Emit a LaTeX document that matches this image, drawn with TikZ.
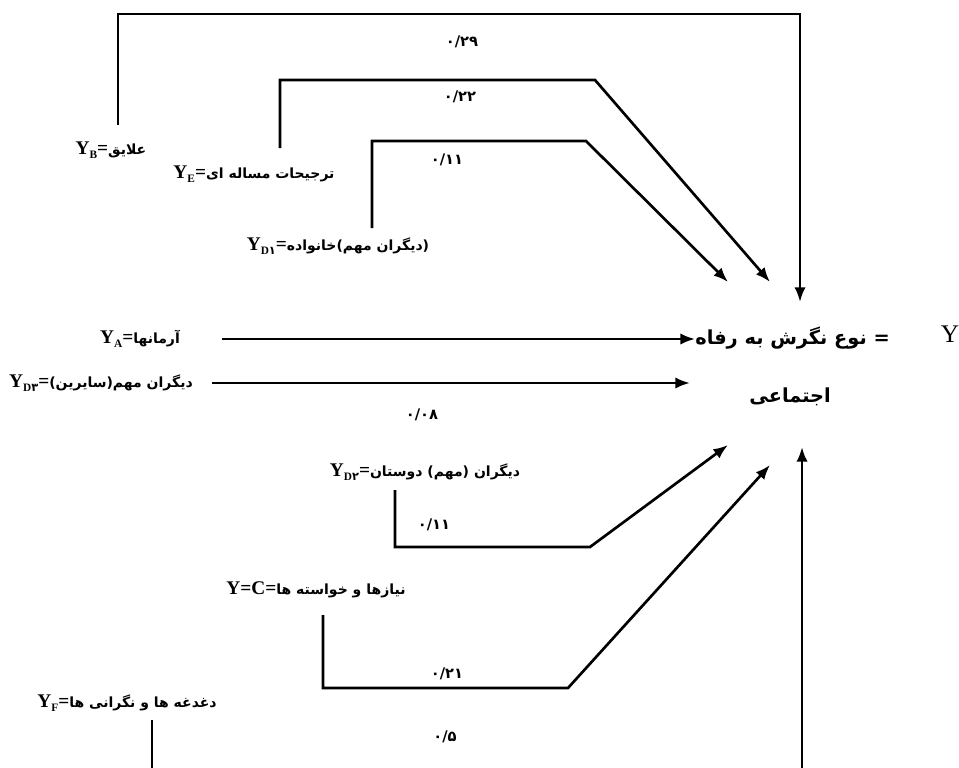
\documentclass[tikz,border=0pt]{standalone}
\usepackage{fontspec}
\setmainfont{Liberation Serif}
\newfontfamily\arfont[Script=Arabic]{DejaVu Sans}
\TeXXeTstate=1
\usetikzlibrary{arrows.meta}
\newcommand\Ysub[1]{\textbf{Y}\raisebox{-0.45ex}{\fontsize{8.5}{8.5}\selectfont\bfseries #1}}
\newcommand\ARt[1]{{\arfont\bfseries\beginR #1\endR}}
\newcommand\ARl[1]{{\fontsize{10.5}{12}\selectfont\ARt{#1}}}
\tikzset{
  lab/.style={inner sep=1pt, font=\fontsize{14.5}{16}\selectfont},
  num/.style={inner sep=1pt, font=\arfont\bfseries\fontsize{11}{12}\selectfont},
  conn/.style={line width=2pt, line join=miter},
  arr/.style={conn, -{Latex[length=11pt,width=8.5pt]}},
}
\begin{document}
\begin{tikzpicture}[x=0.75pt,y=-0.75pt]
\useasboundingbox (0,0) rectangle (959,767);
% labels
\node[lab] (yb) at (111,150) {\Ysub{B}\textbf{=}\ARl{علایق}};
\node[lab] (ye) at (254,174) {\Ysub{E}\textbf{=}\ARl{ترجیحات مساله ای}};
\node[lab] (yd1) at (338,246) {\Ysub{D{\arfont ۱}}\textbf{=}\ARl{(دیگران مهم)خانواده}};
\node[lab] (ya) at (140,339) {\Ysub{A}\textbf{=}\ARl{آرمانها}};
\node[lab] (yd3) at (101,383) {\Ysub{D{\arfont ۳}}\textbf{=}\ARl{دیگران مهم(سایرین)}};
\node[lab] (yd2) at (425,472) {\Ysub{D{\arfont ۲}}\textbf{=}\ARl{دیگران (مهم) دوستان}};
\node[lab] (yc) at (316,590) {\textbf{Y=C=}\ARl{نیازها و خواسته ها}};
\node[lab] (yf) at (127,703) {\Ysub{F}\textbf{=}\ARl{دغدغه ها و نگرانی ها}};
% main
\node[inner sep=0pt, anchor=east, font=\fontsize{14.5}{18}\selectfont] (main) at (890,338) {\ARt{= نوع نگرش به رفاه}};
\node[inner sep=1pt, font=\fontsize{14.5}{18}\selectfont] (main2) at (790,397) {\ARt{اجتماعی}};
\node[inner sep=1pt, font=\fontsize{19}{20}\selectfont] (mainy) at (950,334) {Y};
% numbers
\node[num] (n1) at (462,42) {۰/۲۹};
\node[num] (n2) at (460,97) {۰/۲۲};
\node[num] (n3) at (447,160) {۰/۱۱};
\node[num] (n4) at (422,415) {۰/۰۸};
\node[num] (n5) at (434,525) {۰/۱۱};
\node[num] (n6) at (447,674) {۰/۲۱};
\node[num] (n7) at (445,737) {۰/۵};
% connection points
\coordinate (p1) at (118,125); \coordinate (q1) at (800,14);  \coordinate (e1) at (800,302);
\coordinate (p2) at (280,148); \coordinate (q2) at (595,80);  \coordinate (e2) at (770,282);
\coordinate (p3) at (372,228); \coordinate (q3) at (586,141); \coordinate (e3) at (728,282);
\coordinate (a0) at (222,339);
\coordinate (d0) at (212,383); \coordinate (d1) at (690,383);
\coordinate (p4) at (395,490); \coordinate (q4) at (590,547); \coordinate (e4) at (728,445);
\coordinate (p5) at (323,615); \coordinate (q5) at (568,688); \coordinate (e5) at (770,465);
\coordinate (p6) at (152,720); \coordinate (b6) at (152,770);
\coordinate (b7) at (802,770); \coordinate (e7) at (802,447);
% connectors
\draw[arr] (p1) |- (q1) -- (e1);
\draw[arr] (p2) |- (q2) -- (e2);
\draw[arr] (p3) |- (q3) -- (e3);
\draw[arr] (a0) -- (a0 -| main.west);
\draw[arr] (d0) -- (d1);
\draw[arr] (p4) |- (q4) -- (e4);
\draw[arr] (p5) |- (q5) -- (e5);
\draw[conn] (p6) -- (b6);
\draw[arr] (b7) -- (e7);
\end{tikzpicture}
\end{document}
